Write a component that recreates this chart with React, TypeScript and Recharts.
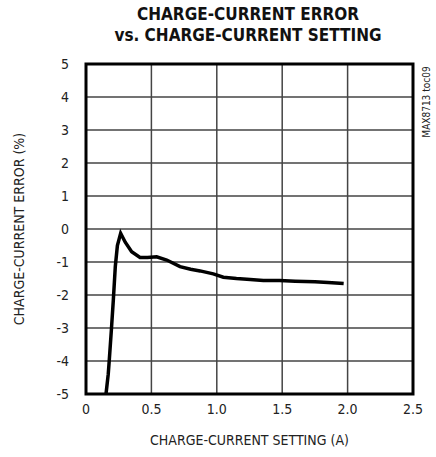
import { CartesianGrid, Line, LineChart, ReferenceArea, XAxis, YAxis } from 'recharts'

const setting = [0.153, 0.17, 0.178, 0.195, 0.209, 0.224, 0.24, 0.265, 0.3, 0.349, 0.413, 0.47, 0.54, 0.617, 0.719, 0.8, 0.872, 0.973, 1.05, 1.15, 1.23, 1.356, 1.48, 1.6, 1.75, 1.85, 1.97]
const error = [-5, -4.4, -3.97, -3.0, -2.15, -1.14, -0.5, -0.13, -0.4, -0.69, -0.86, -0.86, -0.84, -0.94, -1.14, -1.22, -1.27, -1.36, -1.46, -1.5, -1.52, -1.56, -1.56, -1.58, -1.6, -1.62, -1.65]

const xTicks = [0, 0.5, 1.0, 1.5, 2.0, 2.5]
const xTickLabels = ['0', '0.5', '1.0', '1.5', '2.0', '2.5']
const yTicks = [-5, -4, -3, -2, -1, 0, 1, 2, 3, 4, 5]

const data = setting.map((x, i) => ({ x, y: error[i] }))

const font = "'Liberation Sans Narrow', 'DejaVu Sans Condensed', 'Liberation Sans', sans-serif"

export default function App() {
  return (
    <div style={{ position: 'absolute', left: 0, top: 0, width: 436, height: 457, background: '#fff', fontFamily: font }}>
      <div
        style={{
          position: 'absolute',
          left: 0,
          top: 4,
          width: 496,
          textAlign: 'center',
          fontWeight: 'bold',
          fontSize: 17,
          lineHeight: '21px',
          fontFamily: font,
          color: '#111',
        }}
      >
        CHARGE-CURRENT ERROR
        <br />
        vs. CHARGE-CURRENT SETTING
      </div>
      <div
        style={{
          position: 'absolute',
          left: 426,
          top: 102,
          transform: 'translate(-50%, -50%) rotate(-90deg)',
          fontSize: 10,
          whiteSpace: 'nowrap',
          color: '#222',
        }}
      >
        MAX8713 toc09
      </div>
      <LineChart width={436} height={457} data={data} margin={{ top: 64, right: 23, left: 0, bottom: 0 }}>
        <CartesianGrid stroke="#444" strokeWidth={1.5} horizontalValues={yTicks} verticalValues={xTicks} />
        <XAxis
          type="number"
          dataKey="x"
          domain={[0, 2.5]}
          ticks={xTicks}
          tickFormatter={(v) => xTickLabels[xTicks.indexOf(v)] ?? String(v)}
          height={63}
          tickLine={false}
          axisLine={false}
          tickSize={0}
          tickMargin={10}
          tick={{ fill: '#222', fontSize: 14, fontFamily: font }}
          label={{ value: 'CHARGE-CURRENT SETTING (A)', position: 'insideBottom', offset: 12, fill: '#222', fontSize: 14, fontFamily: font }}
        />
        <YAxis
          type="number"
          dataKey="y"
          domain={[-5, 5]}
          ticks={yTicks}
          interval={0}
          width={86}
          tickLine={false}
          axisLine={false}
          tickSize={0}
          tickMargin={17}
          tick={{ fill: '#222', fontSize: 14, fontFamily: font }}
          label={{ value: 'CHARGE-CURRENT ERROR (%)', angle: -90, position: 'insideLeft', offset: 19, fill: '#222', fontSize: 14, fontFamily: font, style: { textAnchor: 'middle' } }}
        />
        <ReferenceArea x1={0} x2={2.5} y1={-5} y2={5} fill="none" stroke="#000" strokeWidth={3} ifOverflow="visible" />
        <Line type="linear" dataKey="y" stroke="#000" strokeWidth={3.5} dot={false} isAnimationActive={false} />
      </LineChart>
    </div>
  )
}
